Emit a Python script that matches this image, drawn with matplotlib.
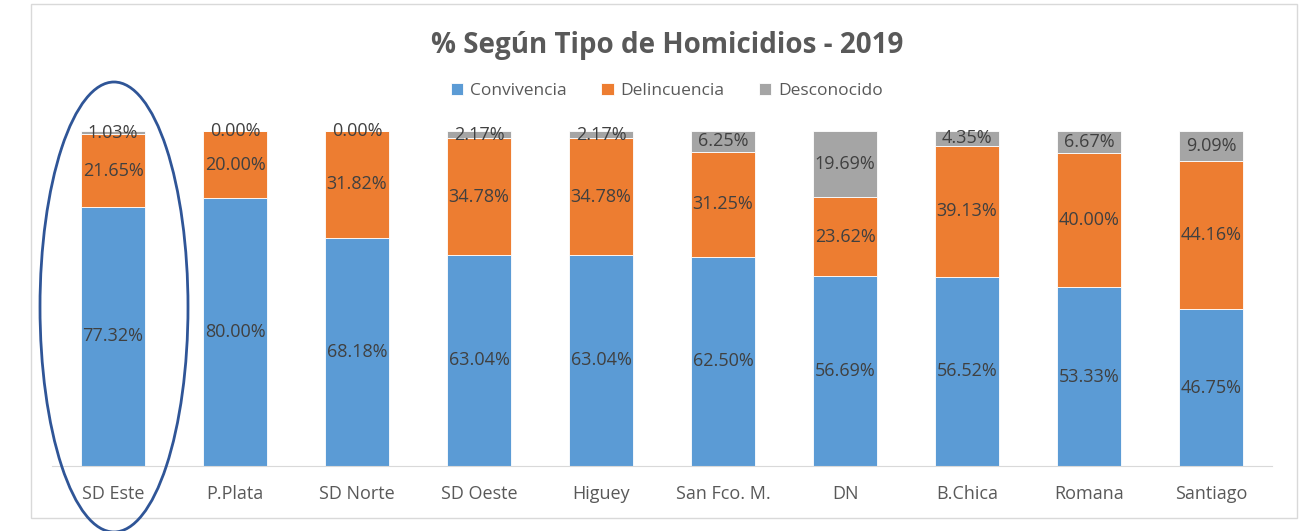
import matplotlib.pyplot as plt
import numpy as np
from matplotlib.patches import Ellipse, Rectangle

plt.rcParams['font.family'] = ['Open Sans', 'DejaVu Sans']

# Datos
regiones = ['SD Este', 'P.Plata', 'SD Norte', 'SD Oeste', 'Higuey', 'San Fco. M.',
            'DN', 'B.Chica', 'Romana', 'Santiago']
convivencia = [77.32, 80.00, 68.18, 63.04, 63.04, 62.50, 56.69, 56.52, 53.33, 46.75]
delincuencia = [21.65, 20.00, 31.82, 34.78, 34.78, 31.25, 23.62, 39.13, 40.00, 44.16]
desconocido = [1.03, 0.00, 0.00, 2.17, 2.17, 6.25, 19.69, 4.35, 6.67, 9.09]

series = [('Convivencia', convivencia, '#5B9BD5'),
          ('Delincuencia', delincuencia, '#ED7D31'),
          ('Desconocido', desconocido, '#A5A5A5')]

W, H = 1308, 531
fig = plt.figure(figsize=(W / 100, H / 100), dpi=100)
ax = fig.add_axes([52 / W, 1 - 466 / H, (1272 - 52) / W, (466 - 131) / H])

x = np.arange(len(regiones))
base = np.zeros(len(regiones))
for nombre, vals, color in series:
    vals = np.array(vals)
    ax.bar(x, vals, 0.525, bottom=base, color=color, label=nombre,
           edgecolor='white', linewidth=0.6)
    for xi, b, v in zip(x, base, vals):
        ax.text(xi, b + v / 2, f'{v:.2f}%', ha='center', va='center',
                fontsize=13, color='#404040')
    base = base + vals

ax.set_xlim(-0.5, len(regiones) - 0.5)
ax.set_ylim(0, 100)
ax.set_yticks([])
for s in ['top', 'right', 'left']:
    ax.spines[s].set_visible(False)
ax.spines['bottom'].set_color('#D9D9D9')
ax.set_xticks(x)
ax.set_xticklabels(regiones, fontsize=13, color='#595959')
ax.tick_params(axis='x', length=0, pad=14)

fig.text(667 / W, 1 - 45 / H, '% Según Tipo de Homicidios - 2019', ha='center', va='center',
         fontsize=20, fontweight='bold', color='#595959')

fig.legend(loc='center', bbox_to_anchor=(667 / W, 1 - 91 / H), ncol=3, frameon=False,
           fontsize=12.5, labelcolor='#595959', handlelength=0.7, handleheight=0.7,
           handletextpad=0.4, columnspacing=2.0)

# Marco del gráfico
fig.patches.append(Rectangle((31 / W, 1 - 518 / H), (1297 - 31) / W, (518 - 4) / H,
                             transform=fig.transFigure, fill=False,
                             edgecolor='#D9D9D9', linewidth=1))

# Elipse alrededor de SD Este
fig.patches.append(Ellipse((114 / W, 1 - 307 / H), 148 / W, 450 / H,
                           transform=fig.transFigure, fill=False,
                           edgecolor='#2F5597', linewidth=2))

fig.savefig('out.png', dpi=100)
